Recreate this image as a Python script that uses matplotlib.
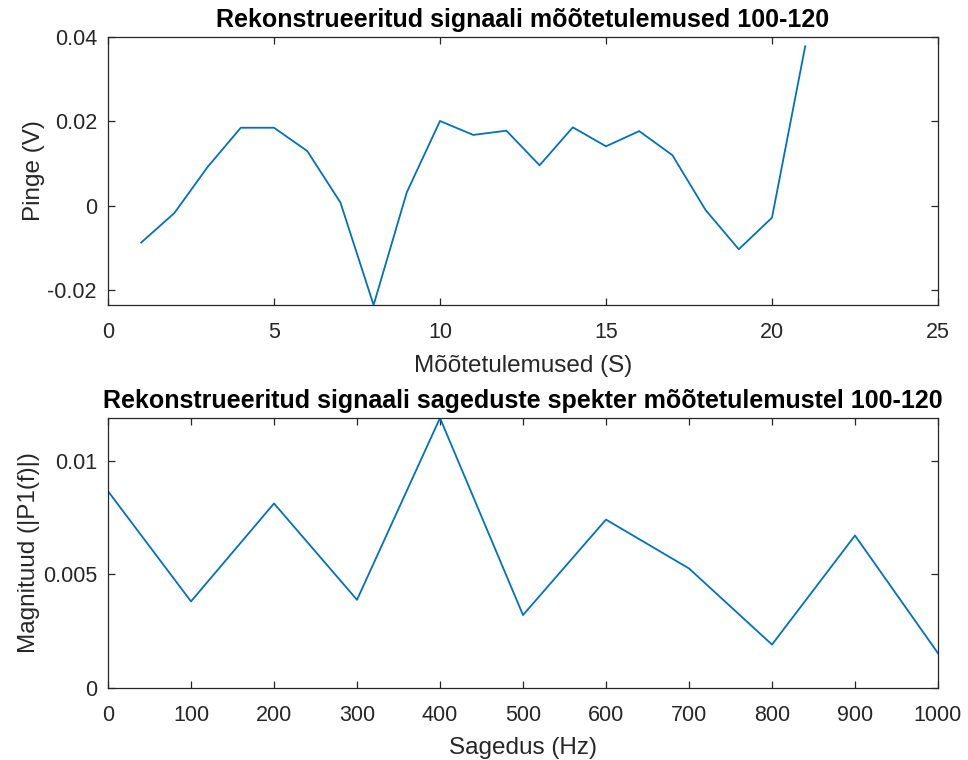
import matplotlib
matplotlib.use("Agg")
import matplotlib.pyplot as plt
import numpy as np

plt.rcParams['font.family'] = ['Liberation Sans', 'DejaVu Sans']
plt.rcParams['axes.unicode_minus'] = False

# Reconstructed signal samples 100-120
sample_idx = list(range(1, 22))
voltage = [-0.0087, -0.0017, 0.0092, 0.0185, 0.0185, 0.0130, 0.0008, -0.0235,
           0.0032, 0.0201, 0.0168, 0.0178, 0.0096, 0.0186, 0.0141, 0.0177,
           0.0120, -0.0010, -0.0103, -0.0028, 0.0378]

# Single-sided amplitude spectrum
freq_hz = [0, 100, 200, 300, 400, 500, 600, 700, 800, 900, 1000]
magnitude = [0.00866, 0.00381, 0.00812, 0.00388, 0.01188, 0.00321,
             0.00741, 0.00526, 0.00191, 0.00671, 0.00153]

line_color = '#0072BD'
ink = '#262626'

fig = plt.figure(figsize=(9.68, 7.6), dpi=100)
ax1 = fig.add_axes([108/968, 1 - 305/760, 830/968, 268/760])
ax2 = fig.add_axes([108/968, 1 - 688/760, 830/968, 270/760])

TICK_FS = 15.5
LABEL_FS = 17.5
TITLE_FS = 18


def style(ax):
    for s in ax.spines.values():
        s.set_color(ink)
        s.set_linewidth(0.9)
    ax.tick_params(direction='in', top=True, right=True, length=5, width=0.9,
                   colors=ink, labelsize=TICK_FS)
    ax.tick_params(axis='x', pad=12)
    ax.tick_params(axis='y', pad=8)


ax1.plot(sample_idx, voltage, color=line_color, lw=1.3)
ax1.set_xlim(0, 25)
ax1.set_ylim(min(voltage), 0.04)
ax1.set_xticks([0, 5, 10, 15, 20, 25])
ax1.set_yticks([-0.02, 0, 0.02, 0.04])
ax1.set_yticklabels(['-0.02', '0', '0.02', '0.04'])
ax1.set_title('Rekonstrueeritud signaali mõõtetulemused 100-120',
              fontsize=TITLE_FS, fontweight='bold', color='black', pad=7)
ax1.set_xlabel('Mõõtetulemused (S)', fontsize=LABEL_FS, color=ink, labelpad=9)
ax1.set_ylabel('Pinge (V)', fontsize=LABEL_FS, color=ink, labelpad=2)
style(ax1)

ax2.plot(freq_hz, magnitude, color=line_color, lw=1.3)
ax2.set_xlim(0, 1000)
ax2.set_ylim(0, max(magnitude))
ax2.set_xticks(freq_hz)
ax2.set_yticks([0, 0.005, 0.01])
ax2.set_yticklabels(['0', '0.005', '0.01'])
ax2.set_title('Rekonstrueeritud signaali sageduste spekter mõõtetulemustel 100-120',
              fontsize=TITLE_FS, fontweight='bold', color='black', pad=7)
ax2.set_xlabel('Sagedus (Hz)', fontsize=LABEL_FS, color=ink, labelpad=8)
ax2.set_ylabel('Magnituud (|P1(f)|)', fontsize=LABEL_FS, color=ink, labelpad=2)
style(ax2)

fig.savefig('out.png', dpi=100, facecolor='white')
